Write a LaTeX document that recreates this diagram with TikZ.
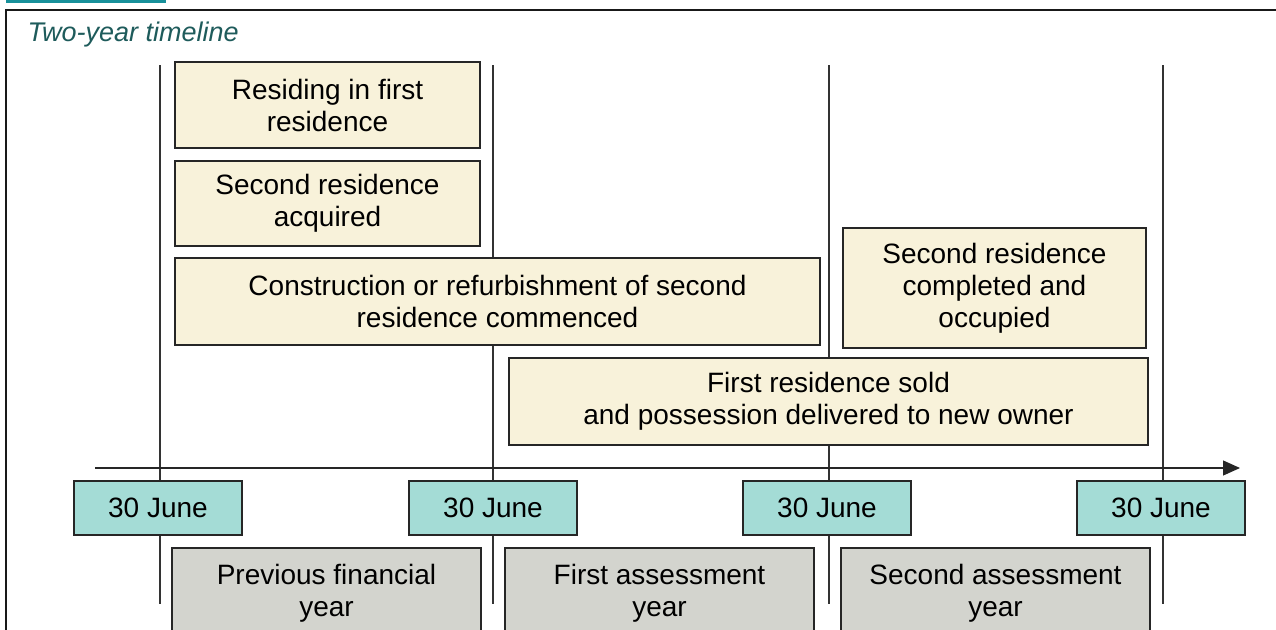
\documentclass[tikz,border=0pt]{standalone}
\usepackage{fontspec}
\setmainfont{Liberation Sans}
\usetikzlibrary{arrows.meta}
\definecolor{creamfill}{HTML}{F8F2DA}
\definecolor{datefill}{HTML}{A4DCD6}
\definecolor{yearfill}{HTML}{D3D4CE}
\definecolor{titleteal}{HTML}{1E5B5B}
\definecolor{barteal}{HTML}{17909A}
\tikzstyle{event} = [
    rectangle,
    inner sep=0pt,
    text centered, align=center,
    draw=black!85, line width=1.3pt, fill=creamfill,
    font=\fontsize{28}{32}\selectfont
]
\tikzstyle{datebox} = [
    rectangle,
    minimum width=168pt, minimum height=54pt,
    inner sep=0pt,
    text centered,
    draw=black!85, line width=1.3pt, fill=datefill,
    font=\fontsize{28}{32}\selectfont
]
\tikzstyle{yearbox} = [
    rectangle,
    minimum width=309pt, minimum height=90pt,
    inner sep=0pt,
    text centered, align=center,
    draw=black!85, line width=1.3pt, fill=yearfill,
    font=\fontsize{28}{32}\selectfont
]
\tikzstyle{tick} = [black!80, line width=1.2pt]
\tikzstyle{axis} = [black!85, line width=1.2pt, -{Triangle[length=17pt,width=15pt]}]

\begin{document}
\begin{tikzpicture}[x=1pt, y=-1pt]
        \useasboundingbox (0,0) rectangle (1276,629);
        \clip (0,0) rectangle (1276,629);
        % Frame and title
        \fill [barteal] (6,0) rectangle (166,2.5);
        \draw [black!90, line width=2pt] (6,640) -- (6,10) -- (1290,10);
        \node (title) [anchor=west, text=titleteal, font=\fontsize{27}{30}\selectfont\itshape] at (24,35) {Two-year timeline};

        % Year markers
        \foreach \name/\x in {a/160, b/493, c/829, d/1163} {
            \coordinate (top\name) at (\x,65);
            \coordinate (bot\name) at (\x,604);
            \draw [tick] (top\name) -- (bot\name);
        }

        % Time axis
        \coordinate (axisstart) at (95,468);
        \coordinate (axisend) at (1240,468);
        \draw [axis] (axisstart) -- (axisend);

        % Draw blocks
        \node (residing) [event, minimum width=305pt, minimum height=86pt] at (327.5,105) {Residing in first\\residence};
        \node (acquired) [event, minimum width=305pt, minimum height=85pt] at (327.5,203.5) {Second residence\\acquired};
        \node (construct) [event, minimum width=645pt, minimum height=87pt] at (497.5,301.5) {Construction or refurbishment of second\\residence commenced};
        \node (completed) [event, minimum width=303pt, minimum height=120pt] at (994.5,288) {Second residence\\completed and\\occupied};
        \node (sold) [event, minimum width=639pt, minimum height=87pt] at (828.5,401.5) {First residence sold\\and possession delivered to new owner};

        \node (junea) [datebox] at (158,508) {30 June};
        \node (juneb) [datebox] at (493,508) {30 June};
        \node (junec) [datebox] at (827,508) {30 June};
        \node (juned) [datebox] at (1161,508) {30 June};

        \node (prevyear) [yearbox] at (326.5,593) {Previous financial\\year};
        \node (firstyear) [yearbox] at (659.5,593) {First assessment\\year};
        \node (secondyear) [yearbox] at (995.5,593) {Second assessment\\year};
    \end{tikzpicture}
\end{document}
